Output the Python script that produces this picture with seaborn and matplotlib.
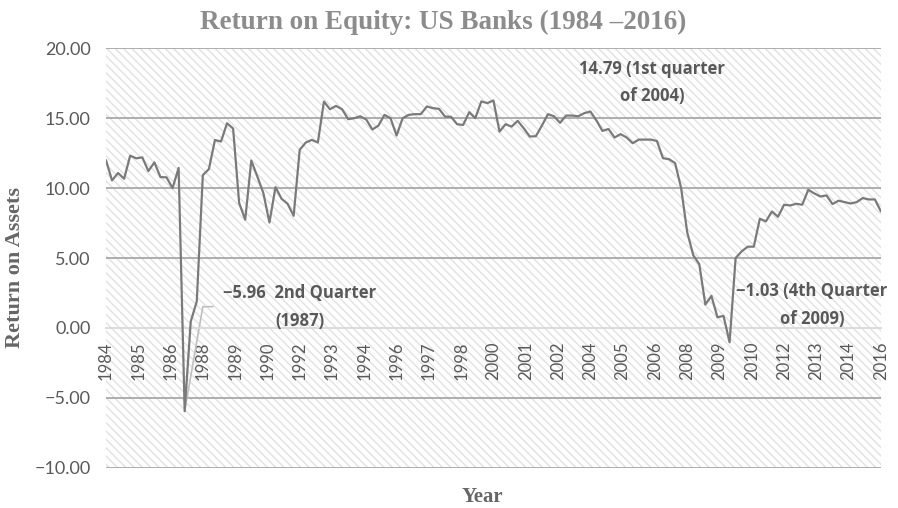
import matplotlib.patches as mpatches
import matplotlib.pyplot as plt
import numpy as np
import pandas as pd
import seaborn as sns

# quarterly return on equity, 1984 Q1 .. 2016 Q1
start_year = 1984
roe = [
    12.00, 10.55, 11.08, 10.67, 12.32, 12.13, 12.20, 11.22, 11.84, 10.79,
    10.77, 10.00, 11.44, -5.96, 0.45, 1.90, 10.93, 11.36, 13.44, 13.33,
    14.64, 14.26, 8.93, 7.74, 11.97, 10.83, 9.64, 7.54, 10.07, 9.24,
    8.88, 8.02, 12.74, 13.26, 13.45, 13.26, 16.19, 15.64, 15.88, 15.64,
    14.93, 15.00, 15.14, 14.90, 14.19, 14.47, 15.24, 15.00, 13.76, 15.00,
    15.24, 15.29, 15.29, 15.84, 15.72, 15.67, 15.12, 15.10, 14.57, 14.52,
    15.43, 15.00, 16.20, 16.08, 16.27, 14.04, 14.57, 14.40, 14.81, 14.28,
    13.69, 13.71, 14.47, 15.29, 15.14, 14.67, 15.19, 15.19, 15.14, 15.36,
    15.48, 14.85, 14.09, 14.23, 13.62, 13.86, 13.62, 13.21, 13.47, 13.47,
    13.47, 13.37, 12.14, 12.07, 11.79, 10.00, 6.85, 5.20, 4.55, 1.67,
    2.29, 0.76, 0.86, -1.03, 5.00, 5.48, 5.81, 5.81, 7.81, 7.62,
    8.33, 7.95, 8.81, 8.76, 8.88, 8.81, 9.88, 9.62, 9.40, 9.48,
    8.86, 9.10, 9.00, 8.90, 9.00, 9.29, 9.19, 9.19, 8.33,
]
tick_labels = [
    "1984", "1985", "1986", "1988", "1989", "1990", "1992", "1993", "1994",
    "1996", "1997", "1998", "2000", "2001", "2002", "2004", "2005", "2006",
    "2008", "2009", "2010", "2012", "2013", "2014", "2016",
]
y_ticks = [-10, -5, 0, 5, 10, 15, 20]

notes = [
    ("14.79 (1st quarter\nof 2004)", 2006.54, 17.56),
    ("\u22125.96  2nd Quarter\n(1987)", 1992.0, 1.49),
    ("\u22121.03 (4th Quarter\nof 2009)", 2013.15, 1.63),
]

df = pd.DataFrame({"Year": start_year + np.arange(len(roe)) / 4, "ROE": roe})

sns.set_style("white")
plt.rcParams["font.family"] = ["Lato", "DejaVu Sans"]
serif = ["Liberation Serif", "DejaVu Serif"]
bold_sans = ["Open Sans", "DejaVu Sans"]

fig = plt.figure(figsize=(8.98, 5.08), dpi=100)
ax = fig.add_axes([0.118, 0.0793, 0.863, 0.8256])

# hatched plot area
ax.add_patch(mpatches.Rectangle((0, 0), 1, 1, transform=ax.transAxes,
                                facecolor="white", edgecolor="#e2e2e2",
                                hatch="\\\\\\\\", lw=0, zorder=0))
for y in y_ticks:
    if y != 0:
        ax.axhline(y, color="#a8a8a8", lw=1.3, zorder=1)

# leader from the 1987 low to its label
i_low = int(np.argmin(roe))
x_low = df["Year"][i_low]
ax.plot([x_low, 1988.0, 1988.42], [roe[i_low], 1.52, 1.52],
        color="#bfbfbf", lw=1.2, zorder=2)

sns.lineplot(data=df, x="Year", y="ROE", ax=ax, color="#7a7a7a", lw=1.6, zorder=3)

ax.set_xlim(start_year, 2016)
ax.set_ylim(-10, 20)
for s in ["top", "right", "left"]:
    ax.spines[s].set_visible(False)
ax.spines["bottom"].set_position(("data", 0))
ax.spines["bottom"].set_color("#d9d9d9")
ax.spines["bottom"].set_linewidth(1.3)

ax.set_xticks(np.linspace(start_year, 2016, len(tick_labels)), tick_labels, rotation=90)
ax.set_yticks(y_ticks, [f"{v:.2f}".replace("-", "\u2212") for v in y_ticks])
ax.tick_params(axis="x", direction="out", length=4, width=1.3, color="#d9d9d9",
               pad=6, labelsize=12, labelcolor="#595959")
ax.tick_params(axis="y", length=0, pad=11, labelsize=13, labelcolor="#595959")
ax.set_xlabel("")
ax.set_ylabel("")

for text, x, y in notes:
    ax.text(x, y, text, ha="center", va="center", multialignment="center",
            family=bold_sans, fontsize=12, fontweight="bold", color="#595959",
            linespacing=1.7, zorder=4)

fig.text(443 / 898, 1 - 22 / 508, "Return on Equity: US Banks (1984 \u20132016)",
         ha="center", va="center", family=serif, fontweight="bold",
         fontsize=19.5, color="#8c8c8c")
fig.text(15 / 898, 1 - 268 / 508, "Return on Assets", rotation=90,
         ha="center", va="center", family=serif, fontweight="bold",
         fontsize=16, color="#666666")
fig.text(482 / 898, 1 - 497 / 508, "Year", ha="center", va="center",
         family=serif, fontweight="bold", fontsize=15, color="#666666")

fig.savefig("out.png", dpi=100)
